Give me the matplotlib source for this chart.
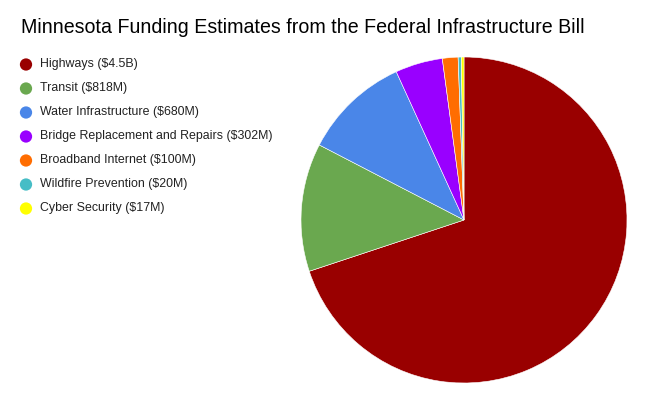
import matplotlib
matplotlib.use("Agg")
from matplotlib import pyplot as plt

labels = ['Highways ($4.5B)', 'Transit ($818M)', 'Water Infrastructure ($680M)',
          'Bridge Replacement and Repairs ($302M)', 'Broadband Internet ($100M)',
          'Wildfire Prevention ($20M)', 'Cyber Security ($17M)']
values = [4500, 818, 680, 302, 100, 20, 17]
colors = ['#990000', '#6aa84f', '#4a86e8', '#9900ff', '#ff6d01', '#46bdc6', '#ffff00']
title = 'Minnesota Funding Estimates from the Federal Infrastructure Bill'

plt.rcParams['font.family'] = ['Liberation Sans', 'DejaVu Sans']

W, H = 653, 404
fig = plt.figure(figsize=(W / 100, H / 100), dpi=100)

# pie: centre (464, 220), radius 163 px
cx, cy, r = 464, 220, 163
ax = fig.add_axes([(cx - r) / W, (H - cy - r) / H, 2 * r / W, 2 * r / H])
ax.pie(values, colors=colors, startangle=90, counterclock=False,
       wedgeprops=dict(edgecolor='white', linewidth=0.4))
ax.set_xlim(-1, 1)
ax.set_ylim(-1, 1)
ax.set_aspect('equal')

# overlay in pixel coords for title + legend
lax = fig.add_axes([0, 0, 1, 1])
lax.set_xlim(0, W)
lax.set_ylim(H, 0)
lax.axis('off')
lax.text(21, 33, title, fontsize=14.1, va='baseline', ha='left', color='black')
for i, (lab, col) in enumerate(zip(labels, colors)):
    y = 64.5 + i * 24
    lax.scatter([26], [y], s=78, color=col, edgecolors='none')
    lax.text(40, y, lab, fontsize=8.9, va='center', ha='left', color='#222222')

fig.savefig('out.png', dpi=100)
